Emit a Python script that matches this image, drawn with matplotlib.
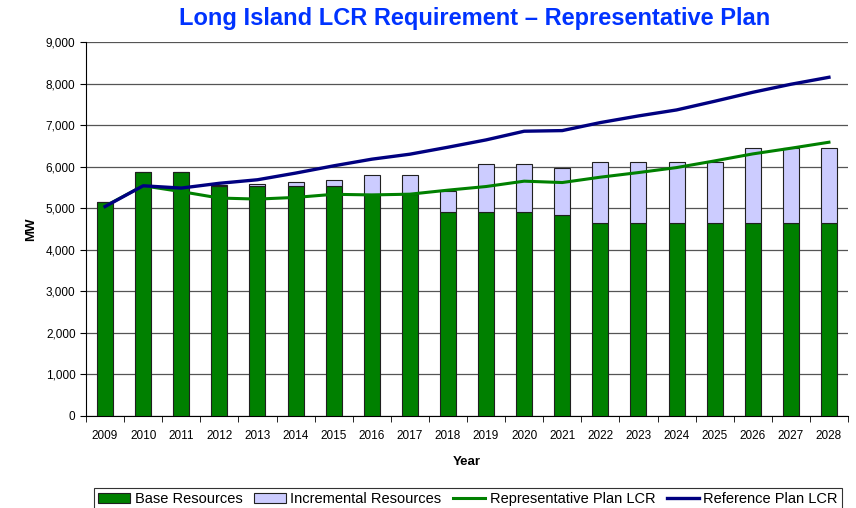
import matplotlib
matplotlib.use("Agg")
import matplotlib.pyplot as plt
import numpy as np
from matplotlib.patches import Patch
from matplotlib.lines import Line2D

years = [str(y) for y in range(2009, 2029)]
base_resources = [5150, 5880, 5880, 5530, 5530, 5530, 5530, 5335, 5335, 4920,
                  4920, 4920, 4835, 4645, 4645, 4645, 4645, 4645, 4645, 4645]
incremental_resources = [0, 0, 0, 40, 50, 90, 145, 460, 460, 495,
                         1140, 1140, 1135, 1465, 1465, 1465, 1465, 1815, 1815, 1815]
representative_lcr = [5050, 5540, 5400, 5245, 5220, 5260, 5335, 5320, 5338, 5435,
                      5522, 5651, 5618, 5747, 5858, 5978, 6139, 6307, 6444, 6588]
reference_lcr = [5040, 5540, 5485, 5600, 5685, 5845, 6020, 6180, 6300, 6468,
                 6644, 6853, 6868, 7061, 7221, 7365, 7574, 7790, 7983, 8151]

plt.rcParams['font.family'] = ['Liberation Sans', 'DejaVu Sans']

fig = plt.figure(figsize=(8.56, 5.08), dpi=100)
ax = fig.add_axes([86/856, 1 - 416/508, (848-86)/856, (416-42)/508])

x = np.arange(len(years))
w = 0.42
ax.bar(x, base_resources, width=w, color='#008000', edgecolor='#202020', linewidth=0.8, zorder=3)
ax.bar(x, incremental_resources, width=w, bottom=base_resources, color='#CCCCFF',
       edgecolor='#202020', linewidth=0.8, zorder=3)
ax.plot(x, representative_lcr, color='#008000', linewidth=2.2, zorder=4)
ax.plot(x, reference_lcr, color='#000080', linewidth=2.4, zorder=5)

ax.set_xlim(-0.5, len(years) - 0.5)
ax.set_ylim(0, 9000)
ax.set_yticks(np.arange(0, 9001, 1000))
ax.set_yticklabels([f"{v:,}" for v in range(0, 9001, 1000)], fontsize=8.5)
ax.set_xticks(x)
ax.set_xticklabels(years, fontsize=8.5)
ax.set_xticks(np.arange(-0.5, len(years), 1), minor=True)
ax.tick_params(axis='x', which='major', length=0, pad=10)
ax.tick_params(axis='x', which='minor', length=4, direction='out', color='black')
ax.tick_params(axis='y', length=4, direction='out', color='black')
ax.yaxis.grid(True, color='#555555', linewidth=0.9, zorder=0)
ax.set_axisbelow(True)
for s in ['top', 'right']:
    ax.spines[s].set_visible(False)
ax.spines['left'].set_color('black')
ax.spines['bottom'].set_color('black')

ax.set_ylabel('MW', fontsize=9.5, fontweight='bold', labelpad=6)
ax.set_xlabel('Year', fontsize=9.5, fontweight='bold', labelpad=10)

fig.text(475/856, 1 - 18/508, 'Long Island LCR Requirement \u2013 Representative Plan',
         ha='center', va='center', fontsize=17, fontweight='bold', color='#0033FF')

handles = [Patch(facecolor='#008000', edgecolor='#202020', linewidth=0.8),
           Patch(facecolor='#CCCCFF', edgecolor='#202020', linewidth=0.8),
           Line2D([0], [0], color='#008000', linewidth=2.2),
           Line2D([0], [0], color='#000080', linewidth=2.4)]
labels = ['Base Resources', 'Incremental Resources', 'Representative Plan LCR', 'Reference Plan LCR']
leg = fig.legend(handles, labels, loc='center', bbox_to_anchor=(468/856, 1 - 499/508),
                 ncol=4, fontsize=10.5, frameon=True, fancybox=False, edgecolor='black',
                 handlelength=2.2, handletextpad=0.3, columnspacing=0.8, borderpad=0.3,
                 handleheight=0.7)
leg.get_frame().set_linewidth(0.8)

fig.savefig('out.png', dpi=100)
